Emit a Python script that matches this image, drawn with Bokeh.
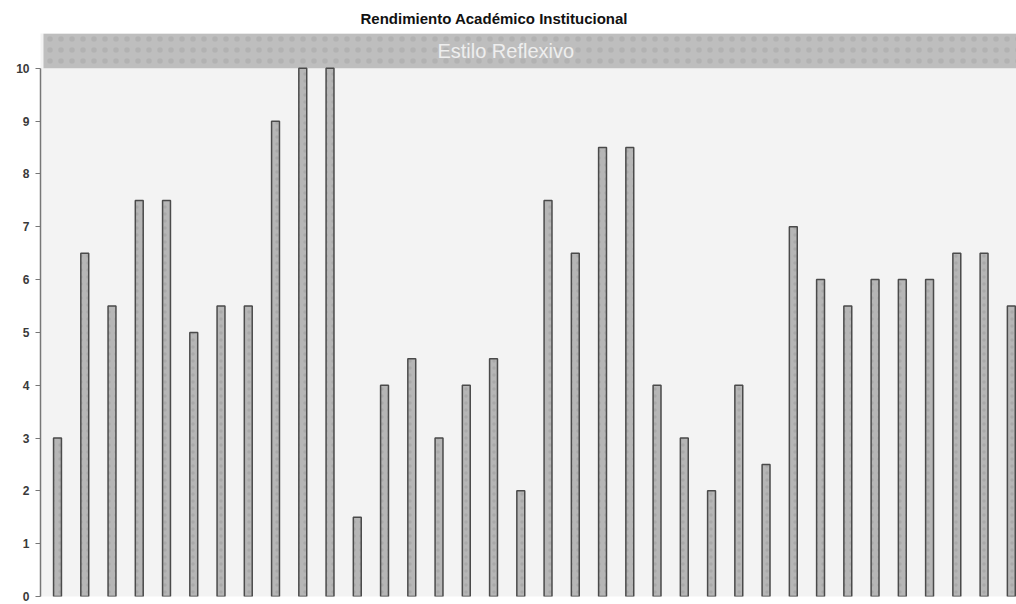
from bokeh.plotting import figure
from bokeh.models import Range1d, Label, Title
from bokeh.embed import file_html
from bokeh.resources import INLINE

# ---- data ----
title_text = "Rendimiento Académico Institucional"
band_text = "Estilo Reflexivo"
students = list(range(1, 37))
scores = [3, 6.5, 5.5, 7.5, 7.5, 5, 5.5, 5.5, 9, 10, 10, 1.5,
          4, 4.5, 3, 4, 4.5, 2, 7.5, 6.5, 8.5, 8.5, 4, 3,
          2, 4, 2.5, 7, 6, 5.5, 6, 6, 6, 6.5, 6.5, 5.5]
y_ticks = list(range(0, 11))

p = figure(width=1016, height=604, output_backend="svg", toolbar_location=None,
           x_range=Range1d(0.376, 36.19), y_range=Range1d(0, 10.66),
           min_border_left=40, min_border_right=0, min_border_top=33,
           min_border_bottom=8)
p.title = Title(text=title_text, align="left", offset=320,
                text_font="Liberation Sans", text_font_size="15px",
                text_font_style="bold", text_color="#111111", standoff=13)
p.background_fill_color = "#f3f3f3"
p.border_fill_color = "white"
p.outline_line_color = None
p.xaxis.visible = False
p.xgrid.visible = False
p.ygrid.visible = False

# header band
p.quad(left=[0.486], right=[37.5], bottom=[10], top=[10.66],
       fill_color="#bebebe", line_color=None,
       hatch_pattern=".", hatch_color="#909090", hatch_alpha=0.25, hatch_scale=11)
p.add_layout(Label(x=14.94, y=10.33, text=band_text, text_align="left",
                   text_baseline="middle", text_font="Liberation Sans",
                   text_font_size="20px", text_color="#eeeeee"))

# bars
p.vbar(x=students, top=scores, bottom=0, width=0.29,
       fill_color="#b6b6b6", line_color="#4a4a4a", line_width=1.5,
       hatch_pattern=".", hatch_color="#8a8a8a", hatch_alpha=0.3, hatch_scale=7)

ax = p.yaxis[0]
ax.ticker = y_ticks
ax.bounds = (0, 10)
ax.axis_line_color = "#777777"
ax.axis_line_width = 1.5
ax.major_tick_line_color = "#777777"
ax.major_tick_out = 5
ax.major_tick_in = 0
ax.minor_tick_line_color = None
ax.major_label_text_font = "Liberation Sans"
ax.major_label_text_font_size = "12px"
ax.major_label_text_font_style = "bold"
ax.major_label_text_color = "#3a3a3a"
ax.major_label_standoff = 6

open("out.html", "w").write(file_html(p, INLINE))
